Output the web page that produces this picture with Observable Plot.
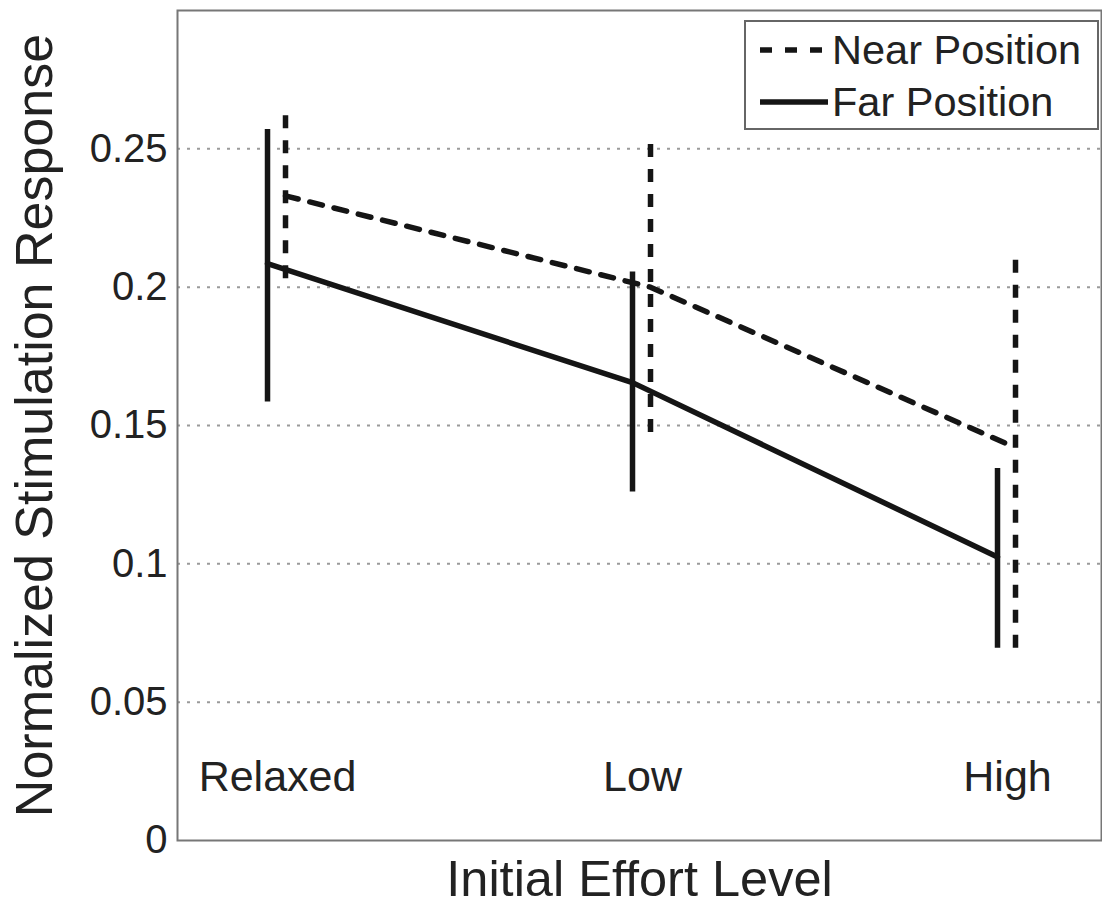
<!DOCTYPE html>
<html>
<head>
<meta charset="utf-8">
<script src="https://cdn.jsdelivr.net/npm/d3@7"></script>
<script src="https://cdn.jsdelivr.net/npm/@observablehq/plot@0.6"></script>
<style>
  html, body { margin: 0; padding: 0; background: #fff; }
  #wrap { position: relative; width: 1102px; height: 909px; }
  #legend { position: absolute; left: 744px; top: 20px; width: 351px; height: 106px;
            border: 2px solid #666; background: #fff; box-sizing: content-box; }
  #legend .row { position: absolute; left: 0; height: 50px; display: flex; align-items: center;
                 font-family: "Liberation Sans", Arial, sans-serif; font-size: 41.5px; color: #222; }
  #legend svg { display: block; }
</style>
</head>
<body>
<div id="wrap"></div>
<script>
// ---- data ----
const categories = ["Relaxed", "Low", "High"];
const nearMean = [0.233, 0.200, 0.142];
const nearLow  = [0.203, 0.1475, 0.0695];
const nearHigh = [0.262, 0.253, 0.212];
const farMean  = [0.2085, 0.1655, 0.1025];
const farLow   = [0.1585, 0.126, 0.0695];
const farHigh  = [0.257, 0.2055, 0.1345];
const yTicks = [0, 0.05, 0.1, 0.15, 0.2, 0.25];
const yTickLabels = ["0", "0.05", "0.1", "0.15", "0.2", "0.25"];
const gridTicks = [0.05, 0.1, 0.15, 0.2, 0.25];
const seriesNames = ["Near Position", "Far Position"];
const xTitle = "Initial Effort Level";
const yTitle = "Normalized Stimulation Response";

const near = categories.map((c, i) => ({cat: c, idx: i + 1, mean: nearMean[i], lo: nearLow[i], hi: nearHigh[i]}));
const far  = categories.map((c, i) => ({cat: c, idx: i + 1, mean: farMean[i], lo: farLow[i], hi: farHigh[i]}));

const ink = "#151515";
const dash = "13,12";
const NEAR_DX = 18;

const chart = Plot.plot({
  width: 1102,
  height: 909,
  marginLeft: 177,
  marginRight: 1,
  marginTop: 10,
  marginBottom: 69,
  style: {fontFamily: "'Liberation Sans', Arial, sans-serif", fontSize: "40px", color: "#222", background: "#fff"},
  x: {domain: [0.7534, 3.2849], axis: null},
  y: {domain: [0, 0.3], axis: null},
  marks: [
    Plot.gridY(gridTicks, {stroke: "#9a9a9a", strokeOpacity: 1, strokeWidth: 2, strokeDasharray: "3,7"}),
    Plot.axisY(yTicks, {tickSize: 0, tickPadding: 10, tickFormat: (d) => yTickLabels[yTicks.indexOf(d)], fontSize: 40, label: null, fill: "#222"}),
    Plot.frame({stroke: "#777", strokeWidth: 2}),
    // far (solid)
    Plot.ruleX(far, {x: "idx", y1: "lo", y2: "hi", stroke: ink, strokeWidth: 5.5}),
    Plot.line(far, {x: "idx", y: "mean", stroke: ink, strokeWidth: 5.5}),
    // near (dashed)
    Plot.ruleX(near, {x: "idx", y1: "lo", y2: "hi", dx: NEAR_DX, stroke: ink, strokeWidth: 5.5, strokeDasharray: dash}),
    Plot.line(near, {x: "idx", y: "mean", dx: NEAR_DX, stroke: ink, strokeWidth: 5.5, strokeDasharray: dash}),
    // category labels inside the plot
    Plot.text(categories, {x: (d, i) => i + 1, y: 0.023, dx: 10, text: (d) => d, fontSize: 43, fill: "#222", lineAnchor: "middle"}),
    // axis titles
    Plot.text([xTitle], {frameAnchor: "bottom", dy: 39, text: (d) => d, fontSize: 50.5, fill: "#222", lineAnchor: "middle", textAnchor: "middle"}),
    Plot.text([yTitle], {frameAnchor: "left", dx: -142, rotate: -90, text: (d) => d, fontSize: 52, fill: "#222", lineAnchor: "middle", textAnchor: "middle"})
  ]
});

const wrap = document.getElementById("wrap");
wrap.appendChild(chart);

// legend
const legend = document.createElement("div");
legend.id = "legend";
const styles = [dash, null];
const tops = [3, 55];
seriesNames.forEach((name, i) => {
  const row = document.createElement("div");
  row.className = "row";
  row.style.top = tops[i] + "px";
  const ns = "http://www.w3.org/2000/svg";
  const s = document.createElementNS(ns, "svg");
  s.setAttribute("width", 86);
  s.setAttribute("height", 20);
  const ln = document.createElementNS(ns, "line");
  ln.setAttribute("x1", 14); ln.setAttribute("x2", 82);
  ln.setAttribute("y1", 10); ln.setAttribute("y2", 10);
  ln.setAttribute("stroke", ink);
  ln.setAttribute("stroke-width", 5.5);
  if (styles[i]) ln.setAttribute("stroke-dasharray", "12,13");
  s.appendChild(ln);
  row.appendChild(s);
  const t = document.createElement("span");
  t.textContent = name;
  row.appendChild(t);
  legend.appendChild(row);
});
wrap.appendChild(legend);
</script>
</body>
</html>
